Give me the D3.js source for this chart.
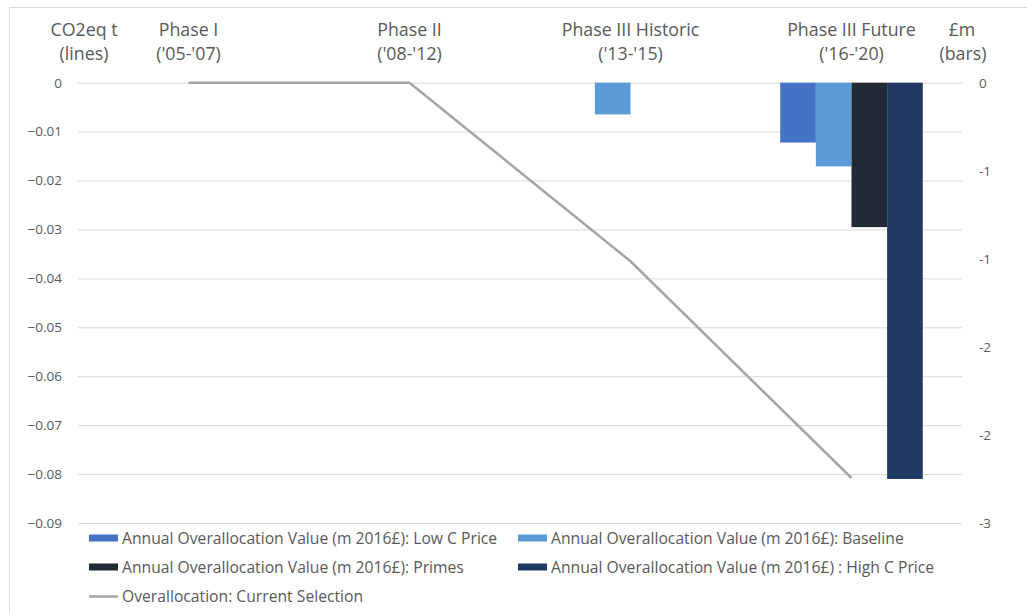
<!DOCTYPE html>
<html>
<head>
<meta charset="utf-8">
<script src="https://cdn.jsdelivr.net/npm/d3@7"></script>
<style>
  html, body { margin: 0; padding: 0; background: #fff; }
  svg text { font-family: "Open Sans", Lato, sans-serif; fill: #595959; }
</style>
</head>
<body>
<svg id="chart" width="1027" height="613"></svg>
<script>
// ---- Data ----
const categories = ["Phase I|('05-'07)", "Phase II|('08-'12)", "Phase III Historic|('13-'15)", "Phase III Future|('16-'20)"];
const seriesNames = [
  "Annual Overallocation Value (m 2016£): Low C Price",
  "Annual Overallocation Value (m 2016£): Baseline",
  "Annual Overallocation Value (m 2016£): Primes",
  "Annual Overallocation Value (m 2016£) : High C Price"
];
const seriesColors = ["#4472c4", "#5b9bd5", "#222a35", "#1f3864"];
const lowCPrice  = [null, null, null, -0.34];
const baseline   = [null, null, -0.18, -0.475];
const primes     = [null, null, null, -0.82];
const highCPrice = [null, null, null, -2.25];
const barSeries = [lowCPrice, baseline, primes, highCPrice];
const lineName = "Overallocation: Current Selection";
const lineValues = [0, 0, -0.0365, -0.0808];
const leftTicks = [0, -0.01, -0.02, -0.03, -0.04, -0.05, -0.06, -0.07, -0.08, -0.09];
const rightTicks = [0, -0.5, -1, -1.5, -2, -2.5];
const rightTickLabels = ["0", "-1", "-1", "-2", "-2", "-3"];

// ---- Layout ----
const FONT = "'Open Sans', Lato, sans-serif";
const svg = d3.select("#chart");
const plot = { left: 78, right: 962, top: 82.7, bottom: 523 };

svg.append("rect").attr("x", 9.5).attr("y", 7.5).attr("width", 1040).attr("height", 640)
  .attr("fill", "none").attr("stroke", "#d9d9d9").attr("stroke-width", 1);

const x0 = d3.scaleBand().domain(d3.range(categories.length)).range([plot.left, plot.right]).padding(0);
const groupW = x0.bandwidth() * 0.645;
const x1 = d3.scaleBand().domain(d3.range(barSeries.length)).range([0, groupW]).padding(0);
const yL = d3.scaleLinear().domain([-0.09, 0]).range([plot.bottom, plot.top]);
const yR = d3.scaleLinear().domain([-2.5, 0]).range([plot.bottom, plot.top]);

// gridlines
const gridAxis = d3.axisLeft(yL).tickValues(leftTicks).tickSize(-(plot.right - plot.left)).tickFormat("");
const grid = svg.append("g").attr("transform", `translate(${plot.left},0)`).call(gridAxis);
grid.select(".domain").remove();
grid.selectAll("line").attr("stroke", "#d9d9d9").attr("stroke-width", 1);

// left axis labels
const leftAxis = d3.axisLeft(yL).tickValues(leftTicks).tickSize(0).tickPadding(16)
  .tickFormat(d => d === 0 ? "0" : d3.format(".2f")(d));
const la = svg.append("g").attr("transform", `translate(${plot.left},0)`).call(leftAxis);
la.select(".domain").remove();
la.selectAll("text").attr("font-size", 13.5).attr("fill", "#595959").attr("font-family", FONT);

// right axis labels
const rightAxis = d3.axisRight(yR).tickValues(rightTicks).tickSize(0).tickPadding(17)
  .tickFormat((d, i) => rightTickLabels[i]);
const ra = svg.append("g").attr("transform", `translate(${plot.right},0)`).call(rightAxis);
ra.select(".domain").remove();
ra.selectAll("text").attr("font-size", 13.5).attr("fill", "#595959").attr("font-family", FONT);

// bars
const groupOffset = (x0.bandwidth() - groupW) / 2;
barSeries.forEach((vals, si) => {
  svg.append("g").selectAll("rect")
    .data(vals.map((v, ci) => ({ v, ci })).filter(d => d.v !== null))
    .join("rect")
    .attr("x", d => x0(d.ci) + groupOffset + x1(si))
    .attr("width", x1.bandwidth())
    .attr("y", d => yR(Math.max(0, d.v)))
    .attr("height", d => Math.abs(yR(d.v) - yR(0)))
    .attr("fill", seriesColors[si]);
});

// line
const line = d3.line()
  .x((d, i) => x0(i) + x0.bandwidth() / 2)
  .y(d => yL(d));
svg.append("path").datum(lineValues).attr("d", line)
  .attr("fill", "none").attr("stroke", "#a5a5a5").attr("stroke-width", 2.5).attr("stroke-linejoin", "round");

// category labels (top)
categories.forEach((c, i) => {
  const parts = c.split("|");
  const cx = x0(i) + x0.bandwidth() / 2;
  const t = svg.append("text").attr("text-anchor", "middle").attr("font-size", 17.8).attr("x", cx);
  t.append("tspan").attr("x", cx).attr("y", 36).text(parts[0]);
  t.append("tspan").attr("x", cx).attr("y", 60).text(parts[1]);
});

// axis titles
[["CO2eq t", 84, 36], ["(lines)", 84, 60], ["£m", 962, 36], ["(bars)", 963, 60]].forEach(([s, x, y]) => {
  svg.append("text").attr("text-anchor", "middle").attr("font-size", 17.8).attr("x", x).attr("y", y).text(s);
});

// legend
const legendItems = [
  { name: seriesNames[0], color: seriesColors[0], x: 89, y: 538, type: "bar" },
  { name: seriesNames[1], color: seriesColors[1], x: 518, y: 538, type: "bar" },
  { name: seriesNames[2], color: seriesColors[2], x: 89, y: 567, type: "bar" },
  { name: seriesNames[3], color: seriesColors[3], x: 518, y: 567, type: "bar" },
  { name: lineName, color: "#a5a5a5", x: 89, y: 596.5, type: "line" }
];
const lg = svg.append("g");
legendItems.forEach(d => {
  if (d.type === "bar") {
    lg.append("rect").attr("x", d.x).attr("y", d.y - 3.5).attr("width", 29).attr("height", 7).attr("fill", d.color);
  } else {
    lg.append("line").attr("x1", d.x).attr("x2", d.x + 29).attr("y1", d.y).attr("y2", d.y)
      .attr("stroke", d.color).attr("stroke-width", 2.5);
  }
  lg.append("text").attr("x", d.x + 33).attr("y", d.y + 5.5).attr("font-size", 15.7).text(d.name);
});
</script>
</body>
</html>
